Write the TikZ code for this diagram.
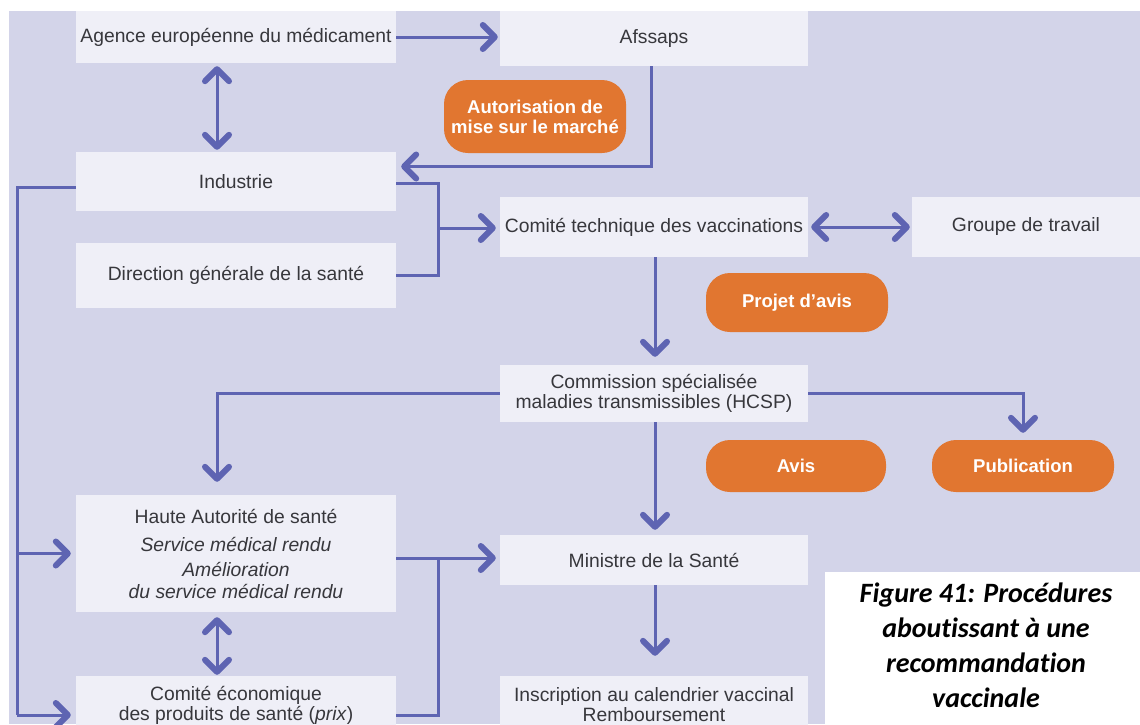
\documentclass[tikz,border=0pt]{standalone}
\usepackage{fontspec}
\setmainfont{Liberation Sans}
\newfontfamily\captionfont[Ligatures=NoCommon]{Carlito}
\usetikzlibrary{arrows.meta}

\definecolor{lavender}{RGB}{211,212,233}
\definecolor{boxfill}{RGB}{239,239,247}
\definecolor{linkblue}{RGB}{94,100,178}
\definecolor{pillorange}{RGB}{225,118,48}
\definecolor{boxtext}{RGB}{55,55,60}

\tikzset{
  chev/.tip={Straight Barb[length=12pt,width=24pt,line width=6pt,round]},
  box/.style={fill=boxfill, text=boxtext, minimum width=320pt, inner sep=0pt, align=center, font=\fontsize{19.3}{22}\selectfont},
  midbox/.style={box, minimum width=308pt},
  pill/.style={fill=pillorange, text=white, rounded corners=24pt, inner sep=0pt, minimum width=182pt, align=center, font=\bfseries\fontsize{18.5}{20}\selectfont},
  wire/.style={draw=linkblue, line width=3pt},
  link/.style={wire, -{chev}, shorten >=2pt},
  twoway/.style={wire, {chev}-{chev}, shorten <=3pt, shorten >=2pt},
}

\begin{document}
\begin{tikzpicture}[x=1pt,y=-1pt]
	\useasboundingbox (0,0) rectangle (1140,724);
	\clip (0,0) rectangle (1140,724);
	\fill [white] (0,0) rectangle (1140,724);
	\fill [lavender] (9,11) rectangle (1140,724);

	% columns and junctions of the connectors
	\coordinate (lx) at (217,0);
	\coordinate (mx) at (655,0);
	\coordinate (trunk) at (17,715);
	\coordinate (jtop) at (438,228);
	\coordinate (jbot) at (438,558);

	\node [box, minimum height=52pt] at (236,37) (agence) {Agence européenne du médicament};
	\node [midbox, minimum height=55pt] at (654,38.5) (afssaps) {Afssaps};
	\node [pill, minimum height=73pt] at (535,116.5) (amm) {Autorisation de\\mise sur le marché};
	\node [box, minimum height=59pt] at (236,181.5) (industrie) {Industrie};
	\node [box, minimum height=65pt] at (236,275.5) (direction) {Direction générale de la santé};
	\node [midbox, minimum height=60pt] at (654,227) (cotech) {Comité technique des vaccinations};
	\node [box, minimum width=228pt, minimum height=60pt] at (1026,227) (groupe) {Groupe de travail};
	\node [pill, minimum height=59pt] at (797,302.5) (projet) {Projet d'avis};
	\node [midbox, minimum height=57pt, font=\fontsize{19.3}{20}\selectfont] at (654,393.5) (commission) {Commission spécialisée\\maladies transmissibles (HCSP)};
	\node [pill, minimum width=180pt, minimum height=52pt] at (796,466) (avis) {Avis};
	\node [pill, minimum height=52pt] at (1023,466) (publication) {Publication};
	\node [box, minimum height=117pt] at (236,553.5) (haute) {Haute Autorité de santé\\[6pt]\textit{Service médical rendu}\\[3pt]\textit{Amélioration}\\\textit{du service médical rendu}};
	\node [midbox, minimum height=50pt] at (654,560) (ministre) {Ministre de la Santé};
	\node [box, minimum height=58pt, font=\fontsize{19.3}{20}\selectfont] at (236,705) (cecon) {Comité économique\\des produits de santé (\textit{prix})};
	\node [midbox, minimum height=58pt, font=\fontsize{19.3}{20}\selectfont] at (654,705) (inscription) {Inscription au calendrier vaccinal\\Remboursement};

	\draw [link] (agence.east) -- (agence.east -| afssaps.west);
	\draw [twoway] (agence.south -| lx) -- (industrie.north -| lx);
	\draw [link, shorten >=5pt] ([xshift=-3pt]afssaps.south) |- ([yshift=15pt]industrie.east);
	\draw [wire] ([yshift=-1.5pt]industrie.east) -| (jtop) |- (direction.east);
	\draw [link, shorten >=4pt] (jtop) -- (jtop -| cotech.west);
	\draw [twoway] (cotech.east) -- (groupe.west);
	\draw [link, shorten >=8pt] (cotech.south -| mx) -- (commission.north -| mx);
	\draw [link, shorten >=13pt] (commission.west) -| (haute.north -| lx);
	\draw [link, shorten >=7pt] (commission.east) -| (publication.north);
	\draw [link, shorten >=5pt] (commission.south -| mx) -- (ministre.north -| mx);
	\draw [link, shorten >=20pt] (ministre.south -| mx) -- (inscription.north -| mx);
	\draw [wire] ([yshift=-6pt]industrie.west) -| (trunk);
	\draw [link, shorten >=5pt] (trunk |- haute.west) -- (haute.west);
	\draw [link, shorten >=5pt] (trunk) -- (trunk -| cecon.west);
	\draw [twoway, shorten <=5pt, shorten >=1pt] (haute.south -| lx) -- (cecon.north -| lx);
	\draw [wire] (haute.east |- jbot) -- (jbot) |- (trunk -| cecon.east);
	\draw [link, shorten >=4pt] (jbot) -- (jbot -| ministre.west);

	\fill [white] (825,572) rectangle (1140,724);
	\node [font=\captionfont\bfseries\itshape\fontsize{28}{35}\selectfont, align=center, inner sep=0pt] at (986,645) (caption) {Figure 41: Procédures\\aboutissant à une\\recommandation\\vaccinale};
\end{tikzpicture}
\end{document}
